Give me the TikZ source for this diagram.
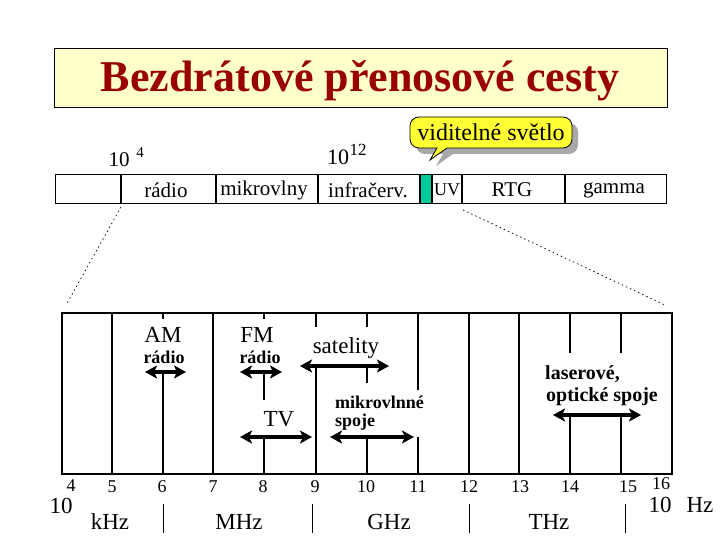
\documentclass[tikz,border=0pt]{standalone}
\usepackage{fontspec}
\setmainfont{Liberation Serif}
\usetikzlibrary{arrows.meta}
\definecolor{titlered}{HTML}{990000}
\definecolor{titlebg}{HTML}{FFFFCC}
\definecolor{visgreen}{HTML}{00CC99}
\definecolor{callyellow}{HTML}{FFFF33}
\definecolor{shadowgray}{HTML}{A8A8A8}
\newcommand{\fsz}[1]{\fontsize{#1}{#1}\selectfont}
\begin{document}
\begin{tikzpicture}[x=1pt,y=-1pt,
  txt/.style={inner sep=0pt, anchor=center},
  barlab/.style={txt, font=\fsz{21}},
  biglab/.style={txt, font=\fsz{23}},
  boldlab/.style={txt, font=\fsz{18}\bfseries},
  boldleft/.style={inner sep=0pt, anchor=west, font=\fsz{20}\bfseries},
  numlab/.style={txt, font=\fsz{18}},
  unitlab/.style={txt, font=\fsz{23}},
  grid/.style={line width=1.5pt},
  dbl/.style={line width=3.5pt, {Stealth[length=12pt,width=13pt,inset=3pt]}-{Stealth[length=12pt,width=13pt,inset=3pt]}},
  zoomline/.style={dash pattern=on 1.5pt off 3pt, line width=0.7pt}]
\useasboundingbox (0,0) rectangle (720,540);
% title
\node[draw, line width=1pt, fill=titlebg, minimum width=613pt, minimum height=59pt, inner sep=0pt] (titlebox) at (360.5,78) {};
\node[txt, text=titlered, font=\fsz{44}\bfseries] (title) at (360,81) {Bezdrátové přenosové cesty};
% spectrum bar
\fill[visgreen] (420,175) rectangle (432,204);
\foreach \x in {121,216,318,420,432,462,565} \draw[line width=1.3pt] (\x,175) -- (\x,204);
\draw[line width=1pt] (55,175) rectangle (666,204);
\node[barlab] (radio) at (166,190) {rádio};
\node[barlab] (mikro) at (264,190) {mikrovlny};
\node[barlab] (infra) at (368,190) {infračerv.};
\node[txt, font=\fsz{18}] (uv) at (447,190) {UV};
\node[barlab] (rtg) at (512,190) {RTG};
\node[barlab] (gamma) at (614,190) {gamma};
\node[txt, font=\fsz{21}] (ten4) at (119,160) {10};
\node[txt, font=\fsz{15}] (ten4e) at (140,153) {4};
\node[txt, font=\fsz{22}] (ten12) at (338,157) {10};
\node[txt, font=\fsz{17}] (ten12e) at (358,150) {12};
% callout
\fill[shadowgray] (418,123)
  [rounded corners=9pt] -- (578,123) -- (578,154) [sharp corners] -- (453,154) -- (436,166) -- (443,154) [rounded corners=9pt] -- (416,154) -- (416,123) [sharp corners] -- cycle;
\filldraw[fill=callyellow, draw=black, line width=0.8pt] (420,117)
  [rounded corners=9pt] -- (572,117) -- (572,148) [sharp corners] -- (447,148) -- (430,160) -- (437,148) [rounded corners=9pt] -- (410,148) -- (410,117) [sharp corners] -- cycle;
\node[txt, font=\fsz{24}] (vis) at (491,132) {viditelné světlo};
% zoom lines
\coordinate (zl1) at (121,207);
\coordinate (zl2) at (66,305);
\coordinate (zr1) at (463,210);
\coordinate (zr2) at (665,305);
\draw[zoomline] (zl1) -- (zl2);
\draw[zoomline] (zr1) -- (zr2);
% lower box
\draw[line width=1.5pt] (62,313) rectangle (672,474);
\foreach \x in {112,213,469,519} \draw[grid] (\x,313) -- (\x,474);
\draw[grid] (163,313) -- (163,319) (163,372) -- (163,474);
\draw[grid] (264,313) -- (264,319) (264,372) -- (264,400) (264,437) -- (264,474);
\draw[grid] (316,313) -- (316,327) (316,366) -- (316,474);
\draw[grid] (367,313) -- (367,327) (367,366) -- (367,383) (367,437) -- (367,474);
\draw[grid] (418,313) -- (418,390) (418,437) -- (418,474);
\draw[grid] (570,313) -- (570,353) (570,415) -- (570,474);
\draw[grid] (621,313) -- (621,353) (621,415) -- (621,474);
% labels in lower box
\node[biglab] (am) at (163,335) {AM};
\node[boldlab] (amr) at (164,357) {rádio};
\node[biglab] (fm) at (257,335) {FM};
\node[boldlab] (fmr) at (260,357) {rádio};
\node[biglab] (sat) at (346,348) {satelity};
\node[biglab] (tv) at (279,419) {TV};
\node[boldleft, font=\fsz{18}\bfseries] (mk1) at (335,402) {mikrovlnné};
\node[boldleft, font=\fsz{18}\bfseries] (mk2) at (335,422) {spoje};
\node[boldleft] (ls1) at (545,374) {laserové,};
\node[boldleft] (ls2) at (546,397) {optické spoje};
% arrows
\coordinate (amL) at (145,372); \coordinate (amR) at (186,372);
\coordinate (fmL) at (240,372); \coordinate (fmR) at (282,372);
\coordinate (tvL) at (240,437); \coordinate (tvR) at (312,437);
\coordinate (satL) at (300,366); \coordinate (satR) at (389,366);
\coordinate (mkL) at (330,437); \coordinate (mkR) at (414,437);
\coordinate (lsL) at (553,415); \coordinate (lsR) at (641,415);
\draw[dbl] (amL) -- (amR);
\draw[dbl] (fmL) -- (fmR);
\draw[dbl] (tvL) -- (tvR);
\draw[dbl] (satL) -- (satR);
\draw[dbl] (mkL) -- (mkR);
\draw[dbl] (lsL) -- (lsR);
% axis numbers
\node[numlab] (n4) at (71,486) {4};
\node[numlab] (n5) at (112,487) {5};
\node[numlab] (n6) at (162,487) {6};
\node[numlab] (n7) at (213,487) {7};
\node[numlab] (n8) at (263,487) {8};
\node[numlab] (n9) at (315,487) {9};
\node[numlab] (n10) at (366,487) {10};
\node[numlab] (n11) at (418,487) {11};
\node[numlab] (n12) at (469,487) {12};
\node[numlab] (n13) at (520,487) {13};
\node[numlab] (n14) at (570,487) {14};
\node[numlab] (n15) at (628,487) {15};
\node[numlab] (n16) at (661,484) {16};
\node[txt, font=\fsz{23}] (base10a) at (61,506) {10};
\node[txt, font=\fsz{23}] (base10b) at (660,505) {10};
\node[txt, font=\fsz{23}] (hz) at (700,505) {Hz};
% units
\node[unitlab] (khz) at (110,522) {kHz};
\node[unitlab] (mhz) at (239,522) {MHz};
\node[unitlab] (ghz) at (389,522) {GHz};
\node[unitlab] (thz) at (549,522) {THz};
\foreach \x in {163,312,469,625} \draw[line width=0.8pt] (\x,504) -- (\x,533);
\end{tikzpicture}
\end{document}
